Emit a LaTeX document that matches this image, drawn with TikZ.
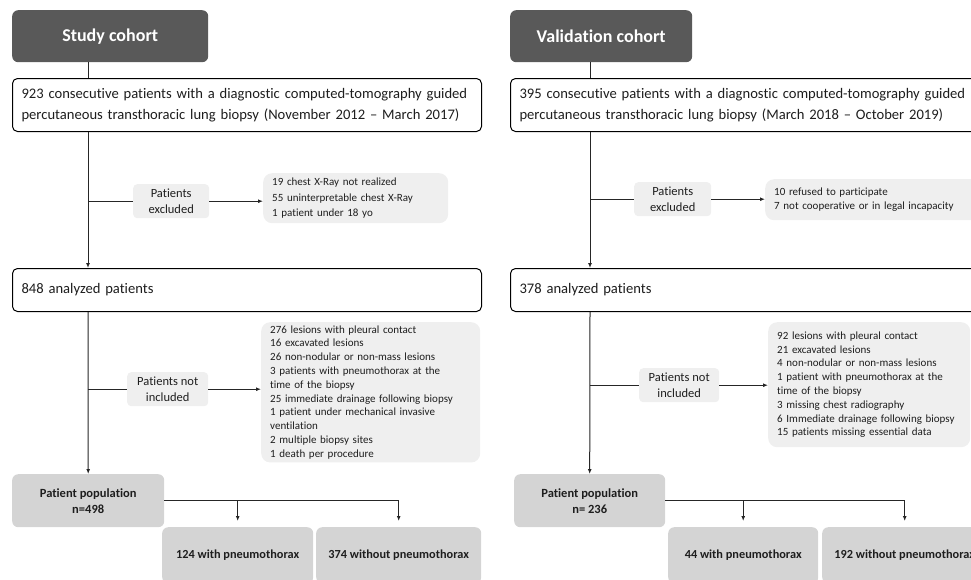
\documentclass[tikz,border=0pt]{standalone}
\usepackage{fontspec}
\setmainfont{Carlito}[Ligatures={NoCommon}]
\usetikzlibrary{arrows.meta}
\definecolor{darkbox}{RGB}{89,89,89}
\definecolor{lightbox}{RGB}{239,239,239}
\definecolor{midbox}{RGB}{212,212,212}
\definecolor{txt}{RGB}{30,30,30}

\begin{document}
\begin{tikzpicture}[x=1pt,y=-1pt,
    titlebox/.style={fill=darkbox, rounded corners=6pt, text=white,
      font=\fontsize{18}{20}\selectfont\bfseries,
      minimum width=196pt, minimum height=52pt, anchor=north west},
    outbox/.style={draw=black, line width=1pt, fill=white, rounded corners=5pt,
      anchor=north west, align=left, text width=451pt, inner xsep=9pt,
      text=txt, font=\fontsize{14.6}{21}\selectfont},
    smallbox/.style={fill=lightbox, rounded corners=4pt, align=center,
      text=txt, font=\fontsize{12.5}{16}\selectfont,
      minimum width=76pt, minimum height=34pt, anchor=north west},
    listbox/.style={fill=lightbox, rounded corners=9pt, align=left,
      text=txt, inner xsep=9pt, anchor=north west,
      font=\fontsize{11}{13.8}\selectfont},
    popbox/.style={fill=midbox, rounded corners=6pt, align=center,
      text=txt, font=\fontsize{12.5}{16}\selectfont\bfseries,
      minimum width=152pt, minimum height=53pt, anchor=north west},
    splitbox/.style={fill=midbox, rounded corners=6pt, align=center,
      text=txt, font=\fontsize{12.3}{16}\selectfont\bfseries,
      minimum width=151pt, minimum height=56pt, anchor=north west},
    link/.style={line width=1pt, draw=black!85},
    flowarrow/.style={link, -{Latex[length=5pt,width=4pt]}}]

  \useasboundingbox (0,0) rectangle (971,579);
  \clip (0,0) rectangle (971,579);

  \coordinate (sTrunk) at (88,0);
  \coordinate (vTrunk) at (590,0);

  % study cohort
  \node[titlebox] (sTitle) at (12,10) {Study cohort};
  \node[outbox, minimum height=53pt] (sAll) at (12,78)
    {923 consecutive patients with a diagnostic computed-tomography guided\\
     percutaneous transthoracic lung biopsy (November 2012 -- March 2017)};
  \node[smallbox] (sExcl) at (133,184) {Patients\\excluded};
  \node[listbox, text width=167pt, minimum height=50pt, font=\fontsize{11}{15.5}\selectfont] (sExclList) at (263,173)
    {19 chest X-Ray not realized\\
     55 uninterpretable chest X-Ray\\
     1 patient under 18 yo};
  \node[outbox, minimum height=43pt] (sAna) at (12,268) {848 analyzed patients};
  \node[smallbox, minimum width=81pt] (sNotIn) at (127,372) {Patients not\\included};
  \node[listbox, text width=201pt, minimum height=135pt] (sNotInList) at (261,322)
    {276 lesions with pleural contact\\
     16 excavated lesions\\
     26 non-nodular or non-mass lesions\\
     3 patients with pneumothorax at the\\
     time of the biopsy\\
     25 immediate drainage following biopsy\\
     1 patient under mechanical invasive\\
     ventilation\\
     2 multiple biopsy sites\\
     1 death per procedure};
  \node[popbox] (sPop) at (12,474) {Patient population\\n=498};
  \node[splitbox] (sWith) at (162,527) {124 with pneumothorax};
  \node[splitbox, minimum width=165pt] (sWithout) at (316,527) {374 without pneumothorax};

  \draw[link] (sTitle.south -| sTrunk) -- (sAll.north -| sTrunk);
  \draw[flowarrow] (sAll.south -| sTrunk) -- (sAna.north -| sTrunk);
  \draw[link] (sExcl.west -| sTrunk) -- (sExcl.west);
  \draw[flowarrow] (sExcl.east) -- (sExcl.east -| sExclList.west);
  \draw[flowarrow] (sAna.south -| sTrunk) -- (sPop.north);
  \draw[link] (sNotIn.west -| sTrunk) -- (sNotIn.west);
  \draw[flowarrow] (sNotIn.east) -- (sNotIn.east -| sNotInList.west);
  \draw[flowarrow, shorten >=6pt] (sPop.east) -| (sWithout.north);
  \draw[flowarrow, shorten >=6pt] (sPop.east -| sWith.north) -- (sWith.north);

  % validation cohort
  \node[titlebox, minimum width=182pt] (vTitle) at (510,10) {Validation cohort};
  \node[outbox, minimum height=53pt] (vAll) at (510,78)
    {395 consecutive patients with a diagnostic computed-tomography guided\\
     percutaneous transthoracic lung biopsy (March 2018 -- October 2019)};
  \node[smallbox, minimum width=77pt] (vExcl) at (634,182) {Patients\\excluded};
  \node[listbox, text width=200pt, minimum height=41pt] (vExclList) at (765,179)
    {10 refused to participate\\
     7 not cooperative or in legal incapacity};
  \node[outbox, minimum height=43pt] (vAna) at (510,268) {378 analyzed patients};
  \node[smallbox, minimum width=80pt] (vNotIn) at (639,368) {Patients not\\included};
  \node[listbox, text width=184pt, minimum height=125pt] (vNotInList) at (768,322)
    {92 lesions with pleural contact\\
     21 excavated lesions\\
     4 non-nodular or non-mass lesions\\
     1 patient with pneumothorax at the\\
     time of the biopsy\\
     3 missing chest radiography\\
     6 Immediate drainage following biopsy\\
     15 patients missing essential data};
  \node[popbox, minimum width=151pt] (vPop) at (514,474) {Patient population\\n= 236};
  \node[splitbox, minimum width=150pt] (vWith) at (668,527) {44 with pneumothorax};
  \node[splitbox, minimum width=165pt] (vWithout) at (822,527) {192 without pneumothorax};

  \draw[link] (vTitle.south -| vTrunk) -- (vAll.north -| vTrunk);
  \draw[flowarrow] (vAll.south -| vTrunk) -- (vAna.north -| vTrunk);
  \draw[link] (vExcl.west -| vTrunk) -- (vExcl.west);
  \draw[flowarrow] (vExcl.east) -- (vExcl.east -| vExclList.west);
  \draw[flowarrow] (vAna.south -| vTrunk) -- (vPop.north);
  \draw[link] (vNotIn.west -| vTrunk) -- (vNotIn.west);
  \draw[flowarrow] (vNotIn.east) -- (vNotIn.east -| vNotInList.west);
  \draw[flowarrow, shorten >=6pt] (vPop.east) -| (vWithout.north);
  \draw[flowarrow, shorten >=6pt] (vPop.east -| vWith.north) -- (vWith.north);
\end{tikzpicture}
\end{document}
